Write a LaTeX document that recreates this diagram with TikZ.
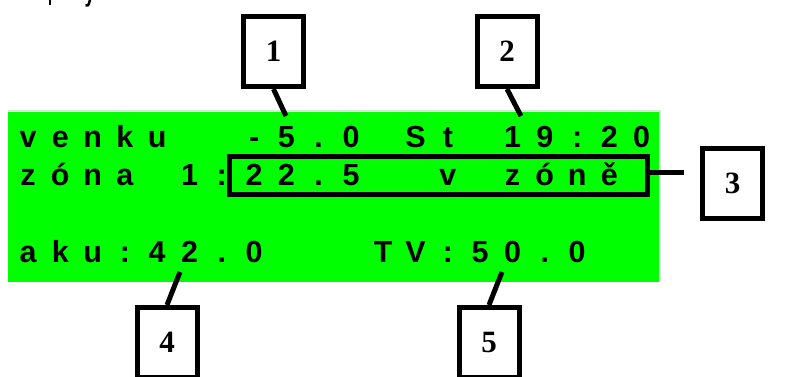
\documentclass[tikz,border=0pt]{standalone}
\usepackage{fontspec}
\newfontfamily\lcdfont{Liberation Sans}
\newfontfamily\numfont{Liberation Serif}
\definecolor{lcdgreen}{RGB}{0,255,0}
\definecolor{lcdedge}{RGB}{224,224,224}
\newcommand{\lownum}[1]{\raisebox{-2pt}{#1}}
\begin{document}
\begin{tikzpicture}[x=1pt,y=-1pt,
  lcd/.style={font=\lcdfont\bfseries\fontsize{30.5}{30.5}\selectfont, inner sep=0pt, anchor=base},
  callout/.style={draw, line width=5pt, minimum width=60pt, minimum height=70pt, inner sep=0pt,
    font=\numfont\bfseries\fontsize{31}{31}\selectfont},
  hlbox/.style={draw, line width=5pt, minimum width=417.5pt, minimum height=38pt, inner sep=0pt},
  leader/.style={line width=5pt}]
\useasboundingbox (0,0) rectangle (796,376);
\clip (0,0) rectangle (796,376);
% cut-off text descenders at the top
\draw[line width=2.5pt] (50,0) -- (50,5);
\draw[line width=2.5pt] (90,0) -- (88.8,4) .. controls (88,5.5) .. (85.5,5.5);
% LCD panel
\fill[lcdgreen] (8,110) rectangle (659,282);
\draw[lcdedge, line width=2pt] (8,111) -- (660,111) -- (660,282);
\foreach \c [count=\i from 0] in {v,e,n,k,u,,,-,5,.,0,,S,t,,1,9,:,2,0}
  \node[lcd] (ra\i) at ({28+32.3*\i},147) {\c};
\foreach \c [count=\i from 0] in {z,ó,n,a,,1,:,2,2,.,5,,,v,,z,ó,n,ě}
  \node[lcd] (rb\i) at ({28+32.3*\i},185) {\c};
\foreach \c [count=\i from 0] in {a,k,u,:,4,2,.,0,,,,T,V,:,5,0,.,0}
  \node[lcd] (rc\i) at ({28+32.3*\i},262) {\c};
% highlight frame
\node[hlbox] (hl) at (438.25,175.5) {};
% callout boxes
\node[callout] (b1) at (273.5,51.5) {\lownum{1}};
\node[callout] (b2) at (507,51.5) {\lownum{2}};
\node[callout] (b3) at (732.5,183) {\lownum{3}};
\node[callout] (b4) at (167,342.5) {\lownum{4}};
\node[callout] (b5) at (489,342.5) {\lownum{5}};
% leaders
\coordinate (p1) at (286,116);
\coordinate (p2) at (521,116);
\coordinate (p3) at (684,172);
\coordinate (p4) at (180,272);
\coordinate (p5) at (502,272);
\draw[leader] (b1.south) -- (p1);
\draw[leader] (b2.south) -- (p2);
\draw[leader] (hl.east |- p3) -- (p3);
\draw[leader] (b4.north) -- (p4);
\draw[leader] (b5.north) -- (p5);
\end{tikzpicture}
\end{document}
